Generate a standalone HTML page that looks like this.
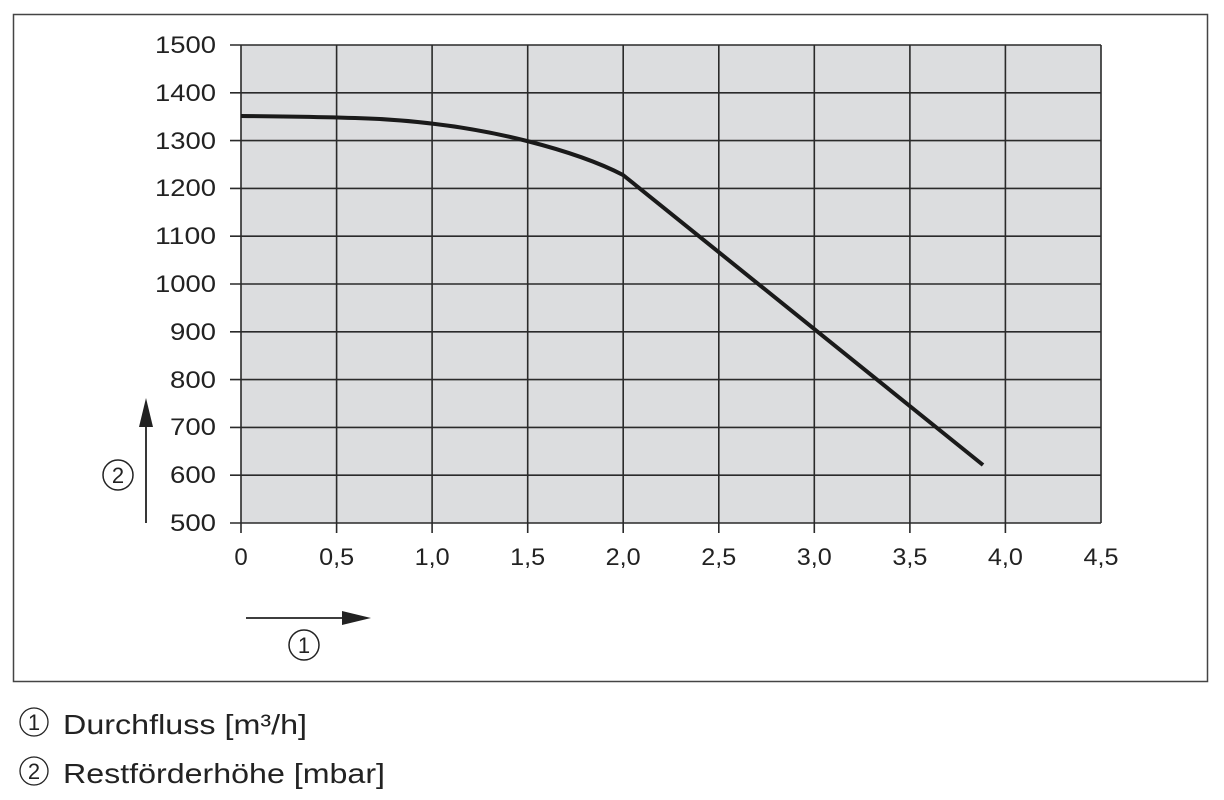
<!DOCTYPE html>
<html><head><meta charset="utf-8"><style>
html,body{margin:0;padding:0;background:#fff;width:1224px;height:800px;overflow:hidden}
svg text{font-family:"Liberation Sans","DejaVu Sans",sans-serif;fill:#222}
</style></head><body>
<svg width="1224" height="800" viewBox="0 0 1224 800" xmlns="http://www.w3.org/2000/svg">
<rect x="13.5" y="14.5" width="1194" height="667" fill="none" stroke="#444" stroke-width="1.5"/>
<rect x="241" y="45" width="860" height="478" fill="#dcdddf"/>
<g stroke="#2a2a2a" stroke-width="1.6" fill="none">
<path d="M241 45V533M336.6 45V533M432.1 45V533M527.7 45V533M623.2 45V533M718.8 45V533M814.3 45V533M909.9 45V533M1005.4 45V533M1101 45V523"/>
<path d="M230 45H1101M230 92.8H1101M230 140.6H1101M230 188.4H1101M230 236.2H1101M230 284H1101M230 331.8H1101M230 379.6H1101M230 427.4H1101M230 475.2H1101M230 523H1101"/>
</g>
<path d="M241 116 C300 116.5 336 117 380 119 C431 122 480 129 527 141 C570 152 600 163 623 175 L983 465" fill="none" stroke="#1a1a1a" stroke-width="4" stroke-linejoin="round"/>
<g font-size="24" text-anchor="end" lengthAdjust="spacingAndGlyphs">
<text x="216" y="53" textLength="61" lengthAdjust="spacingAndGlyphs">1500</text><text x="216" y="101" textLength="61" lengthAdjust="spacingAndGlyphs">1400</text><text x="216" y="149" textLength="61" lengthAdjust="spacingAndGlyphs">1300</text><text x="216" y="196" textLength="61" lengthAdjust="spacingAndGlyphs">1200</text><text x="216" y="244" textLength="61" lengthAdjust="spacingAndGlyphs">1100</text><text x="216" y="292" textLength="61" lengthAdjust="spacingAndGlyphs">1000</text><text x="216" y="340" textLength="46" lengthAdjust="spacingAndGlyphs">900</text><text x="216" y="388" textLength="46" lengthAdjust="spacingAndGlyphs">800</text><text x="216" y="435" textLength="46" lengthAdjust="spacingAndGlyphs">700</text><text x="216" y="483" textLength="46" lengthAdjust="spacingAndGlyphs">600</text><text x="216" y="531" textLength="46" lengthAdjust="spacingAndGlyphs">500</text>
</g>
<g font-size="24" text-anchor="middle">
<text x="241" y="565">0</text><text x="336.6" y="565" textLength="35" lengthAdjust="spacingAndGlyphs">0,5</text><text x="432.1" y="565" textLength="35" lengthAdjust="spacingAndGlyphs">1,0</text><text x="527.7" y="565" textLength="35" lengthAdjust="spacingAndGlyphs">1,5</text><text x="623.2" y="565" textLength="35" lengthAdjust="spacingAndGlyphs">2,0</text><text x="718.8" y="565" textLength="35" lengthAdjust="spacingAndGlyphs">2,5</text><text x="814.3" y="565" textLength="35" lengthAdjust="spacingAndGlyphs">3,0</text><text x="909.9" y="565" textLength="35" lengthAdjust="spacingAndGlyphs">3,5</text><text x="1005.4" y="565" textLength="35" lengthAdjust="spacingAndGlyphs">4,0</text><text x="1101" y="565" textLength="35" lengthAdjust="spacingAndGlyphs">4,5</text>
</g>
<path d="M146 523V425" stroke="#222" stroke-width="1.8"/>
<path d="M146 398L139 427H153Z" fill="#222"/>
<circle cx="118" cy="475" r="15" fill="none" stroke="#222" stroke-width="1.5"/>
<text x="118" y="483" font-size="22" text-anchor="middle">2</text>
<path d="M246 618H345" stroke="#222" stroke-width="1.8"/>
<path d="M371 618L342 611V625Z" fill="#222"/>
<circle cx="304" cy="645" r="15" fill="none" stroke="#222" stroke-width="1.5"/>
<text x="304" y="653" font-size="22" text-anchor="middle">1</text>
<circle cx="34" cy="722" r="14" fill="none" stroke="#222" stroke-width="1.3"/>
<text x="34" y="730" font-size="22" text-anchor="middle">1</text>
<text x="63" y="734" font-size="28" textLength="244" lengthAdjust="spacingAndGlyphs">Durchfluss [m³/h]</text>
<circle cx="34" cy="771" r="14" fill="none" stroke="#222" stroke-width="1.3"/>
<text x="34" y="779" font-size="22" text-anchor="middle">2</text>
<text x="63" y="783" font-size="28" textLength="322" lengthAdjust="spacingAndGlyphs">Restförderhöhe [mbar]</text>
</svg>
</body></html>
